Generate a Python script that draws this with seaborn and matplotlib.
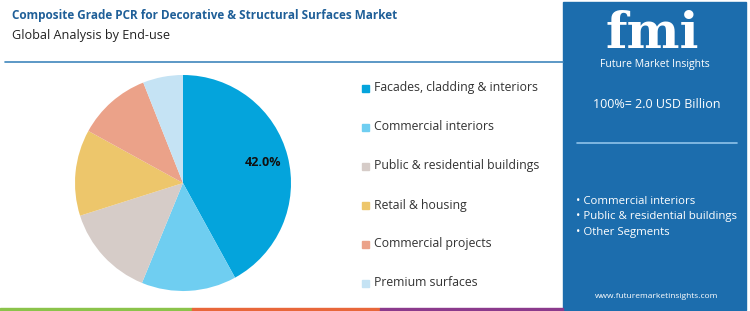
import matplotlib
matplotlib.use("Agg")
import matplotlib.pyplot as plt
import seaborn as sns
from matplotlib.patches import Rectangle

categories = ["Facades, cladding & interiors", "Commercial interiors",
              "Public & residential buildings", "Retail & housing",
              "Commercial projects", "Premium surfaces"]
shares = [42.0, 14.2, 13.9, 12.9, 11.0, 6.0]
colors = ["#04A4DC", "#6FCEF1", "#D6CCC8", "#EDC66B", "#EBA289", "#C5E3F4"]
bullets = ["Commercial interiors", "Public & residential buildings", "Other Segments"]
title = "Composite Grade PCR for Decorative & Structural Surfaces Market"
subtitle = "Global Analysis by End-use"
total_text = "100%= 2.0 USD Billion"

sns.set_theme(style="white")
plt.rcParams['font.family'] = ['Open Sans', 'DejaVu Sans']

W, H = 750, 311
fig = plt.figure(figsize=(W / 100, H / 100), dpi=100)
fig.patch.set_facecolor("white")

def fx(x):
    return x / W

def fy(y):
    return 1 - y / H

# Background decorations
bg = fig.add_axes([0, 0, 1, 1])
bg.set_xlim(0, W)
bg.set_ylim(H, 0)
bg.axis("off")
bg.add_patch(Rectangle((563, 2), 183, 308, color="#1C6DAD", zorder=0))
bg.plot([5, 563], [62, 62], color="#3F86BC", lw=1.2)
bg.add_patch(Rectangle((0, 308), 192, 3, color="#8BC34A"))
bg.add_patch(Rectangle((192, 308), 188, 3, color="#E8673A"))
bg.add_patch(Rectangle((380, 308), 183, 3, color="#8B3A8C"))
bg.plot([577, 737], [143, 143], color="#8FC3EA", lw=1.2)

# Titles
fig.text(fx(12), fy(15), title, fontsize=8.5, fontweight="bold", color="#1F5F98",
         va="center", ha="left")
fig.text(fx(12), fy(35), subtitle, fontsize=9.1, color="#222222", va="center", ha="left")

# Pie
ax = fig.add_axes([fx(75), fy(291), 216 / W, 216 / H])
wedges, texts, autotexts = ax.pie(
    shares, colors=colors, startangle=90, counterclock=False,
    autopct=lambda p: f"{p:.1f}%" if p > 40 else "", pctdistance=0.76,
    wedgeprops=dict(linewidth=0), textprops=dict(fontsize=9, fontweight="bold", color="#111111"))
ax.set_xlim(-1, 1)
ax.set_ylim(-1, 1)
ax.set_aspect("equal")

# Legend
ys = [88, 127, 166, 205, 244, 283]
for cat, col, y in zip(categories, colors, ys):
    bg.add_patch(Rectangle((362, y - 3.5), 7, 7, color=col))
    bg.text(374, y, cat, fontsize=8.8, color="#333333", va="center", ha="left")

# Right panel
bg.text(652, 34, "fmi", fontsize=36, fontweight="bold", color="white",
        ha="center", va="center", family=["DejaVu Serif"])
bg.text(655, 64, "Future Market Insights", fontsize=7.5, color="white", ha="center", va="center")
bg.text(657, 105, total_text, fontsize=9, color="white", ha="center", va="center")
for i, b in enumerate(bullets):
    bg.text(576, 202 + 15 * i, "\u2022 " + b, fontsize=8.2, color="white", ha="left", va="center")
bg.text(657, 297, "www.futuremarketinsights.com", fontsize=6, color="white", ha="center", va="center")

fig.savefig("out.png", dpi=100, facecolor="white")
